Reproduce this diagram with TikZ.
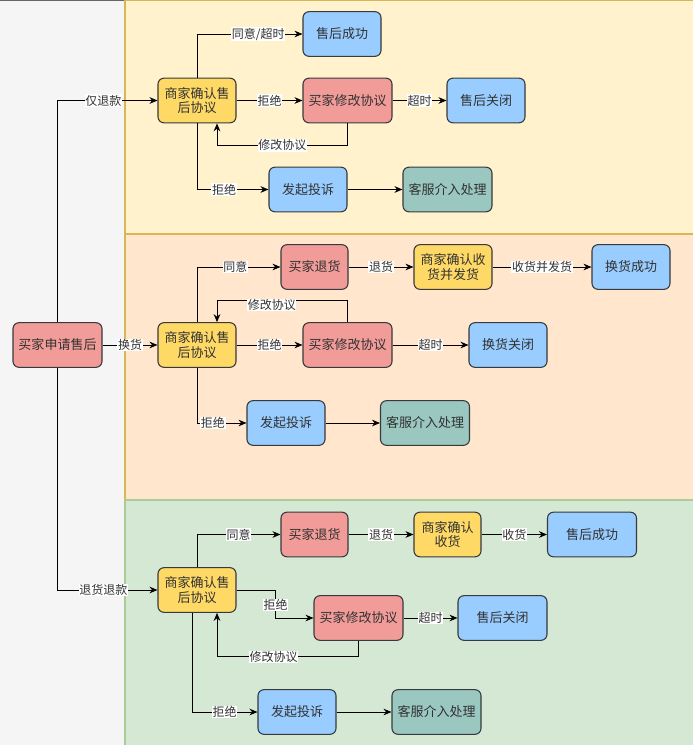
\documentclass[tikz,border=0pt]{standalone}
\usepackage{fontspec}
\setmainfont{Noto Sans CJK SC}
\usepackage{tikz}
\usetikzlibrary{arrows.meta}
\definecolor{grayback}{RGB}{245,245,245}
\definecolor{yellowlane}{RGB}{255,242,204}
\definecolor{yellowline}{RGB}{214,182,86}
\definecolor{orangelane}{RGB}{255,230,204}
\definecolor{greenlane}{RGB}{213,232,212}
\definecolor{greenline}{RGB}{170,205,150}
\definecolor{redfill}{RGB}{241,156,153}
\definecolor{yellowfill}{RGB}{255,217,102}
\definecolor{bluefill}{RGB}{153,204,255}
\definecolor{tealfill}{RGB}{154,199,191}
\definecolor{edge}{RGB}{54,57,61}
\definecolor{ink}{RGB}{50,50,50}
\tikzset{
	box/.style={draw=edge, line width=0.8pt, rounded corners=4.5pt, align=center,
		minimum width=58.5pt, minimum height=33.5pt, inner sep=1pt, text=ink,
		font=\fontsize{9.75}{11}\selectfont},
	wide/.style={minimum width=66.75pt},
	short/.style={minimum width=50.25pt},
	redbox/.style={box, fill=redfill},
	yellowbox/.style={box, fill=yellowfill},
	bluebox/.style={box, fill=bluefill},
	tealbox/.style={box, fill=tealfill},
	arr/.style={draw=black, line width=0.7pt, -{Stealth[length=6pt,width=5pt]}},
	lbl/.style={fill=white, inner sep=0.5pt, text=ink, font=\fontsize{9}{10}\selectfont}
}

\begin{document}
\begin{tikzpicture}[x=0.75pt, y=-0.75pt]
	\useasboundingbox (0,0) rectangle (693,745);
	% lanes
	\fill[grayback] (0,0) rectangle (125,745);
	\draw[gray!80!black, line width=1pt] (0,0.5) -- (125,0.5);
	\fill[yellowlane] (125,0) rectangle (693,234);
	\fill[orangelane] (125,234) rectangle (693,500);
	\fill[greenlane] (125,500) rectangle (693,745);
	\draw[yellowline, line width=1.2pt] (125,0) -- (693,0);
	\draw[yellowline, line width=1.2pt] (125,0) -- (125,500) (125,234) -- (693,234);
	\draw[greenline, line width=1.2pt] (125,500) -- (125,745) (125,500) -- (693,500);

	\node[redbox, wide] (0) at (57.5,345) {买家申请售后};

	% lane 1
	\node[yellowbox] (1) at (197,100.5) {商家确认售\\后协议};
	\node[bluebox] (2) at (342,34) {售后成功};
	\node[redbox, wide] (3) at (347.5,100.5) {买家修改协议};
	\node[bluebox] (4) at (486,100.5) {售后关闭};
	\node[bluebox] (5) at (308,189.5) {发起投诉};
	\node[tealbox, wide] (6) at (447.5,189.5) {客服介入处理};

	% lane 2
	\node[yellowbox] (7) at (197,345) {商家确认售\\后协议};
	\node[redbox, short] (8) at (314.5,267) {买家退货};
	\node[yellowbox] (9) at (453,267) {商家确认收\\货并发货};
	\node[bluebox] (10) at (631,267) {换货成功};
	\node[redbox, wide] (11) at (347.5,345) {买家修改协议};
	\node[bluebox] (12) at (508,345) {换货关闭};
	\node[bluebox] (13) at (286,423) {发起投诉};
	\node[tealbox, wide] (14) at (425,423) {客服介入处理};

	% lane 3
	\node[yellowbox] (15) at (197,590) {商家确认售\\后协议};
	\node[redbox, short] (16) at (314.5,534.5) {买家退货};
	\node[yellowbox, short] (17) at (447.5,534.5) {商家确认\\收货};
	\node[bluebox, wide] (18) at (592,534.5) {售后成功};
	\node[redbox, wide] (19) at (358.5,618) {买家修改协议};
	\node[bluebox, wide] (20) at (502.5,618) {售后关闭};
	\node[bluebox] (21) at (297,712) {发起投诉};
	\node[tealbox, wide] (22) at (436.5,712) {客服介入处理};

	% edges lane 1
	\draw[arr] (0.north) |- node[lbl, pos=0.73] {仅退款} (1);
	\draw[arr] (1.north) |- node[lbl, pos=0.79] {同意/超时} (2);
	\draw[arr] (1) -- node[lbl] {拒绝} (3);
	\draw[arr] (3) -- node[lbl] {超时} (4);
	\draw[arr] (3.south) -- ++(0,22) -| node[lbl, pos=0.25] {修改协议} ([xshift=15pt]1.south);
	\draw[arr] (1.south) |- node[lbl, pos=0.69] {拒绝} (5);
	\draw[arr] (5) -- (6);

	% edges lane 2
	\draw[arr] (0) -- node[lbl] {换货} (7);
	\draw[arr] (7.north) |- node[lbl, pos=0.73] {同意} (8);
	\draw[arr] (8) -- node[lbl] {退货} (9);
	\draw[arr] (9) -- node[lbl] {收货并发货} (10);
	\draw[arr] (7) -- node[lbl] {拒绝} (11);
	\draw[arr] (11) -- node[lbl] {超时} (12);
	\draw[arr] (11.north) -- ++(0,-22) -| node[lbl, pos=0.29, yshift=-3.5pt] {修改协议} ([xshift=15pt]7.north);
	\draw[arr] (7.south) |- node[lbl, pos=0.66] {拒绝} (13);
	\draw[arr] (13) -- (14);

	% edges lane 3
	\draw[arr] (0.south) |- node[lbl, pos=0.73] {退货退款} (15);
	\draw[arr] (15.north) |- node[lbl, pos=0.75] {同意} (16);
	\draw[arr] (16) -- node[lbl] {退货} (17);
	\draw[arr] (17) -- node[lbl] {收货} (18);
	\draw[arr] (15.east) -- ++(39,0) |- node[lbl, pos=0.27] {拒绝} (19);
	\draw[arr] (19) -- node[lbl] {超时} (20);
	\draw[arr] (19.south) -- ++(0,16) -| node[lbl, pos=0.3] {修改协议} ([xshift=15pt]15.south);
	\draw[arr] ([xshift=-3.75pt]15.south) |- node[lbl, pos=0.75] {拒绝} (21);
	\draw[arr] (21) -- (22);
\end{tikzpicture}
\end{document}
